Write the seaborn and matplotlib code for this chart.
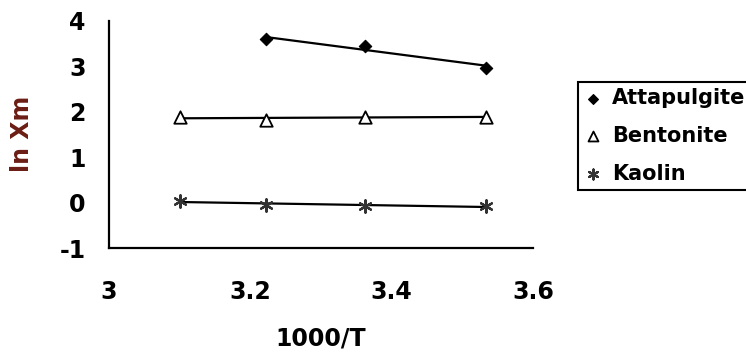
import numpy as np
import pandas as pd
import matplotlib
matplotlib.use("Agg")
import matplotlib.pyplot as plt
import seaborn as sns

# ---- data ----
atta_x = [3.222, 3.362, 3.533]
atta_y = [3.59, 3.45, 2.97]
bent_x = [3.101, 3.222, 3.362, 3.533]
bent_y = [1.88, 1.82, 1.88, 1.89]
kaol_x = [3.101, 3.222, 3.362, 3.533]
kaol_y = [0.04, -0.05, -0.07, -0.08]

x_ticks = [3.0, 3.2, 3.4, 3.6]
x_tick_labels = ["3", "3.2", "3.4", "3.6"]
y_ticks = [-1, 0, 1, 2, 3, 4]
y_tick_labels = ["-1", "0", "1", "2", "3", "4"]

sns.set_theme(style="white")
plt.rcParams["font.family"] = ["DejaVu Sans"]
plt.rcParams["font.weight"] = "bold"
plt.rcParams["axes.unicode_minus"] = False
plt.rcParams["text.color"] = "black"

W, H = 746, 353
fig = plt.figure(figsize=(W / 100, H / 100), dpi=100)
ax = fig.add_axes([109 / W, 1 - 248 / H, (533 - 109) / W, (248 - 20.7) / H])

line_kws = dict(lw=1.6, solid_capstyle="butt")
for xs, ys in [(atta_x, atta_y), (bent_x, bent_y), (kaol_x, kaol_y)]:
    sns.regplot(x=np.array(xs), y=np.array(ys), scatter=False, ci=None,
                truncate=True, color="black", line_kws=line_kws, ax=ax)

sns.scatterplot(x=atta_x, y=atta_y, marker="D", s=40, color="black",
                edgecolor="black", linewidth=0.8, label="Attapulgite", ax=ax,
                zorder=4, clip_on=False)
sns.scatterplot(x=bent_x, y=bent_y, marker="^", s=80, color="black",
                facecolor="white", edgecolor="black", linewidth=1.3,
                label="Bentonite", ax=ax, zorder=4, clip_on=False)
sns.scatterplot(x=kaol_x, y=kaol_y, marker=(6, 2, 0), s=80, color="#333333",
                linewidth=1.6, label="Kaolin", ax=ax, zorder=4, clip_on=False)

ax.set_xlim(3.0, 3.6)
ax.set_ylim(-1, 4)
ax.set_xticks(x_ticks)
ax.set_xticklabels(x_tick_labels)
ax.set_yticks(y_ticks)
ax.set_yticklabels(y_tick_labels)

for s in ["top", "right"]:
    ax.spines[s].set_visible(False)
for s in ["left", "bottom"]:
    ax.spines[s].set_color("black")
    ax.spines[s].set_linewidth(1.6)

ax.tick_params(axis="both", which="major", direction="out", length=7,
               width=1.5, color="black", labelsize=17, labelcolor="black")
ax.tick_params(axis="x", pad=16)
ax.tick_params(axis="y", pad=10)
for lab in ax.get_xticklabels() + ax.get_yticklabels():
    lab.set_fontweight("bold")

ax.set_xlabel("1000/T", fontsize=17, fontweight="bold", color="black", labelpad=16)
ax.set_ylabel("ln Xm", fontsize=17, fontweight="bold", color="#6b1d14", labelpad=18)

leg = ax.legend(loc="upper left", bbox_to_anchor=(578 / W, 1 - 82 / H),
                bbox_transform=fig.transFigure, borderaxespad=0,
                frameon=True, fancybox=False, framealpha=1, edgecolor="black",
                prop={"size": 15, "weight": "bold"}, borderpad=0.3,
                labelspacing=0.85, handlelength=0.8, handletextpad=0.55,
                markerscale=0.8)
leg.get_frame().set_linewidth(1.5)
for t in leg.get_texts():
    t.set_color("black")

fig.savefig("out.png", dpi=100)
